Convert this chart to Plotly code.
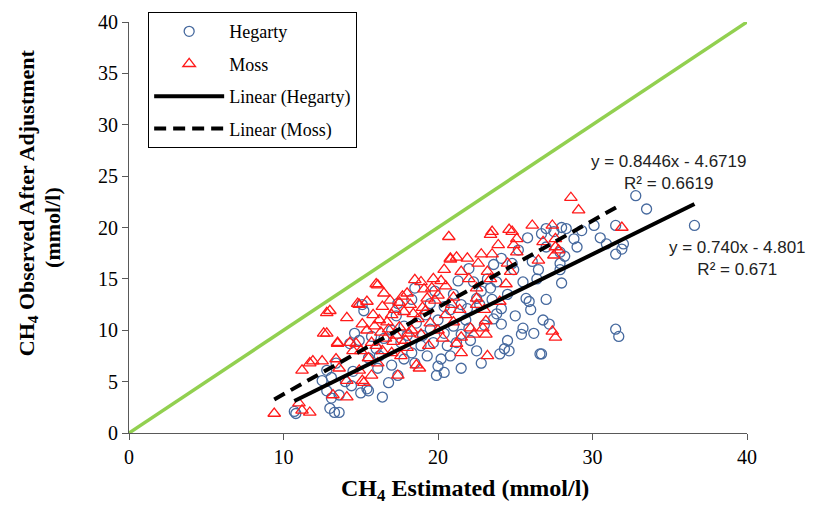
import plotly.graph_objects as go

# ---------------- data ----------------
hegarty_x = [10.8, 13.0, 13.3, 13.6, 13.1, 13.6, 15.0, 15.5, 14.4, 12.8, 12.5, 13.1, 12.8, 13.4, 15.5,
             14.3, 14.6, 14.9, 15.1, 15.2, 16.4, 15.4, 16.8, 17.4, 16.1, 17.0, 17.8, 18.5, 18.3, 19.3,
             20.2, 20.8, 19.9, 20.4, 16.0, 15.7, 16.5, 17.6, 18.9, 19.7, 20.6, 21.2, 17.8, 18.6, 19.5,
             20.4, 21.0, 17.3, 17.4, 18.3, 19.5, 20.4, 20.8, 18.5, 21.5, 22.5, 22.1, 21.5, 24.6, 24.5,
             26.7, 25.4, 26.2, 25.5, 24.1, 23.6, 23.8, 25.0, 24.1, 21.5, 21.9, 22.5, 25.7, 25.9, 22.8,
             23.4, 22.3, 23.2, 23.8, 25.5, 26.4, 23.6, 24.1, 24.9, 26.1, 26.5, 26.7, 27.0, 27.5, 28.0,
             28.3, 28.8, 29.0, 27.9, 27.0, 30.1, 31.5, 30.9, 31.5, 31.9, 32.0, 27.9, 27.9, 28.0, 31.5,
             31.7, 32.8, 33.5, 36.6, 19.0, 20.0, 21.8, 22.0, 23.0, 22.7, 23.5, 24.5, 21.0, 19.8, 21.3,
             22.0, 24.8, 25.2, 25.8, 26.0, 27.0, 20.0, 18.0, 17.0, 16.2, 14.5, 14.0, 24.0, 22.8, 19.2,
             26.8, 27.2, 28.2, 29.3, 30.5, 24.3, 26.6, 10.7]
hegarty_y = [1.9, 2.4, 2.0, 2.0, 3.4, 3.7, 3.9, 4.1, 4.6, 4.1, 5.1, 5.4, 6.1, 6.8, 7.3,
             8.7, 9.7, 9.0, 12.5, 11.9, 3.5, 4.3, 4.9, 5.6, 6.3, 6.6, 7.2, 6.8, 7.8, 7.5,
             7.2, 7.5, 5.6, 5.9, 8.2, 9.4, 9.2, 8.8, 8.5, 8.8, 8.5, 8.8, 10.4, 10.7, 10.1,
             9.7, 10.4, 11.4, 12.6, 13.0, 12.6, 12.3, 12.0, 14.1, 6.3, 8.0, 9.0, 9.6, 8.0, 9.0,
             7.7, 9.6, 9.7, 10.2, 10.6, 11.1, 11.6, 11.4, 12.1, 12.5, 12.1, 13.1, 13.1, 12.8, 13.8,
             14.1, 14.7, 15.0, 14.7, 14.7, 15.0, 16.4, 17.0, 15.9, 16.7, 15.9, 19.4, 19.9, 19.6, 20.0,
             19.9, 18.9, 18.1, 17.6, 18.1, 20.2, 20.2, 18.4, 17.4, 17.9, 18.4, 16.5, 15.9, 14.6, 10.1,
             9.4, 23.1, 21.8, 20.2, 9.5, 11.0, 11.0, 10.2, 10.5, 12.5, 13.0, 13.5, 13.5, 13.8, 14.8,
             16.0, 16.5, 17.8, 19.0, 12.0, 13.0, 6.5, 9.5, 10.0, 7.5, 6.0, 5.0, 7.7, 6.8, 11.5,
             11.0, 10.6, 17.2, 19.7, 19.0, 8.2, 7.7, 2.1]

moss_x = [9.4, 11.2, 11.7, 11.0, 13.2, 14.1, 11.2, 11.7, 11.9, 12.5, 13.4, 12.8, 12.6, 12.8, 13.0,
          14.1, 14.8, 14.9, 15.4, 13.5, 13.5, 14.3, 14.7, 14.5, 14.9, 13.6, 15.1, 14.1, 15.2, 15.1,
          16.0, 16.1, 15.4, 15.9, 16.2, 16.4, 16.7, 17.0, 17.2, 17.5, 17.8, 18.0, 18.2, 18.5, 18.9,
          19.3, 19.7, 19.6, 20.2, 20.4, 20.7, 20.8, 20.8, 20.5, 20.0, 19.0, 18.7, 19.5, 20.0, 20.5,
          18.3, 17.3, 16.6, 16.0, 15.7, 16.4, 17.0, 17.6, 18.0, 18.6, 18.8, 17.4, 15.7, 16.1, 15.5,
          15.0, 16.3, 17.9, 18.9, 19.4, 20.3, 21.2, 21.5, 21.0, 21.4, 21.0, 20.9, 21.5, 21.9, 21.2,
          22.6, 22.8, 23.5, 23.5, 23.4, 23.9, 24.6, 24.8, 25.1, 24.9, 25.1, 26.1, 24.5, 24.7, 23.2,
          24.4, 23.4, 22.5, 22.0, 22.5, 22.5, 23.1, 22.9, 23.1, 22.1, 22.3, 21.5, 23.2, 24.0, 23.0,
          27.4, 27.6, 27.6, 27.5, 27.8, 28.6, 29.1, 31.9, 27.4, 27.6, 26.5, 26.8, 16.9, 17.7, 18.4,
          19.1, 19.8, 15.8, 16.8, 17.5, 19.2, 18.1, 17.1, 16.5]
moss_y = [1.9, 2.2, 2.0, 2.9, 3.7, 3.5, 6.1, 6.8, 7.0, 7.0, 7.2, 9.7, 9.7, 11.7, 11.9,
          11.2, 12.6, 12.5, 12.8, 8.7, 8.8, 8.8, 8.7, 8.0, 6.1, 6.3, 5.1, 5.1, 4.9, 10.6,
          14.5, 14.4, 10.0, 10.4, 11.0, 12.3, 10.8, 11.5, 12.0, 10.3, 11.8, 13.6, 12.5, 14.9, 14.7,
          13.1, 15.0, 14.1, 14.8, 15.9, 19.1, 17.0, 16.9, 14.3, 13.4, 12.2, 11.1, 10.7, 10.0, 11.5,
          10.0, 9.5, 9.2, 8.5, 8.8, 8.0, 7.8, 7.5, 8.3, 6.6, 6.3, 5.6, 5.6, 6.8, 7.3,
          8.0, 9.8, 9.0, 9.6, 8.5, 9.2, 8.7, 9.3, 10.8, 12.0, 13.2, 12.5, 15.7, 17.0, 17.1,
          16.5, 17.4, 17.4, 19.6, 19.3, 18.3, 19.8, 19.6, 18.9, 18.3, 17.6, 20.2, 16.5, 15.7, 15.7,
          14.5, 15.0, 14.1, 15.0, 13.1, 12.5, 10.9, 10.2, 9.6, 10.2, 9.6, 7.8, 7.5, 12.8, 12.0,
          20.2, 18.9, 18.1, 17.3, 17.8, 22.9, 21.7, 20.0, 9.9, 9.3, 16.8, 18.6, 12.9, 13.3, 11.6,
          14.0, 12.9, 11.5, 10.1, 12.7, 11.9, 9.7, 8.9, 13.6]

# trend line coefficients (from the chart's equations)
heg_slope, heg_intercept = 0.740, -4.801
moss_slope, moss_intercept = 0.8446, -4.6719
identity_x = [0, 40]

heg_line_x = [min(hegarty_x), max(hegarty_x)]
heg_line_y = [heg_slope * v + heg_intercept for v in heg_line_x]
moss_line_x = [min(moss_x), max(moss_x)]
moss_line_y = [moss_slope * v + moss_intercept for v in moss_line_x]

SERIF = "Liberation Serif, Times New Roman, serif"
SANS = "Liberation Sans, Arial, sans-serif"

fig = go.Figure()
fig.add_trace(go.Scatter(x=identity_x, y=identity_x, mode="lines",
                         line=dict(color="#92D050", width=3.5), showlegend=False,
                         hoverinfo="skip"))
fig.add_trace(go.Scatter(x=hegarty_x, y=hegarty_y, mode="markers", name="Hegarty",
                         legendgroup="a",
                         marker=dict(symbol="circle-open", size=10, color="#46699E",
                                     line=dict(width=1.3, color="#46699E"))))
fig.add_trace(go.Scatter(x=moss_x, y=moss_y, mode="markers", name="Moss",
                         legendgroup="b",
                         marker=dict(symbol="triangle-up-open", size=11, color="#FF1A1A",
                                     line=dict(width=1.3, color="#FF1A1A"))))
fig.add_trace(go.Scatter(x=heg_line_x, y=heg_line_y, mode="lines", name="Linear (Hegarty)",
                         legendgroup="c", line=dict(color="black", width=4)))
fig.add_trace(go.Scatter(x=moss_line_x, y=moss_line_y, mode="lines", name="Linear (Moss)",
                         legendgroup="d", line=dict(color="black", width=4, dash="12px,7px")))

axis_common = dict(range=[0, 40], showgrid=False, zeroline=False, showline=True,
                   linecolor="#595959", linewidth=1, ticks="outside", ticklen=6,
                   tickcolor="#595959", tickfont=dict(family=SERIF, size=20, color="black"))
fig.update_xaxes(dtick=10, **axis_common)
fig.update_yaxes(dtick=5, **axis_common)

fig.update_layout(
    width=832, height=506,
    margin=dict(l=129, r=85, t=18, b=73),
    paper_bgcolor="white", plot_bgcolor="white",
    legend=dict(x=0.031, y=1.024, xanchor="left", yanchor="top",
                bgcolor="white", bordercolor="black", borderwidth=1,
                font=dict(family=SERIF, size=18, color="black"),
                itemwidth=70, tracegroupgap=6, traceorder="grouped"),
    annotations=[
        dict(x=34.9, y=25.4, xref="x", yref="y", showarrow=False,
             xanchor="center", yanchor="middle",
             text="y = 0.8446x - 4.6719<br>R² = 0.6619", align="center",
             font=dict(family=SANS, size=17, color="#222")),
        dict(x=39.4, y=17.0, xref="x", yref="y", showarrow=False,
             xanchor="center", yanchor="middle",
             text="y = 0.740x - 4.801<br>R² = 0.671", align="center",
             font=dict(family=SANS, size=17, color="#222")),
        dict(x=0.5435, y=0, xref="paper", yref="paper", yshift=-57, showarrow=False,
             xanchor="center", yanchor="middle",
             text="<b>CH<sub>4</sub> Estimated (mmol/l)</b>",
             font=dict(family=SERIF, size=24, color="black")),
        dict(x=0, y=0.559, xref="paper", yref="paper", xshift=-101, showarrow=False,
             xanchor="center", yanchor="middle",
             textangle=-90, text="<b>CH<sub>4</sub> Observed After Adjustment</b>",
             font=dict(family=SERIF, size=22, color="black")),
        dict(x=0, y=0.499, xref="paper", yref="paper", xshift=-76, showarrow=False,
             xanchor="center", yanchor="middle",
             textangle=-90, text="<b>(mmol/l)</b>",
             font=dict(family=SERIF, size=22, color="black")),
    ],
)

fig.write_html("out.html", config={"displayModeBar": False},
               post_script="document.body.style.margin='0';")
